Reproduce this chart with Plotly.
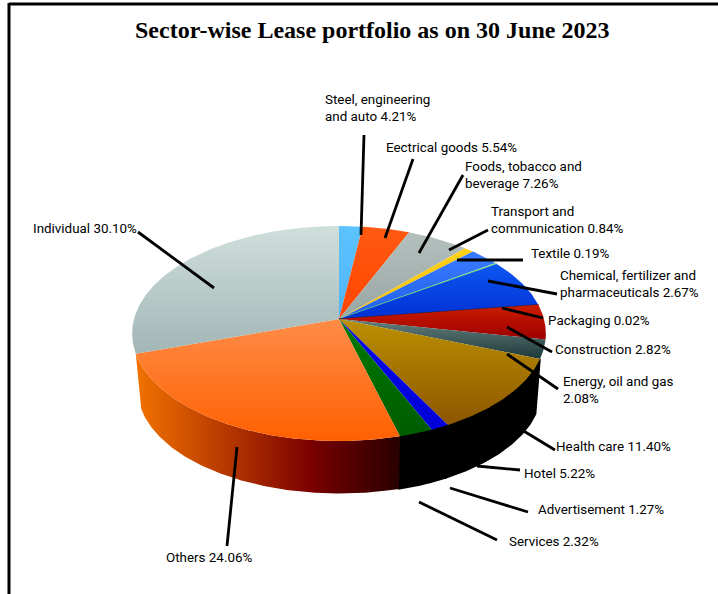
import numpy as np
import plotly.graph_objects as go

# Sectors in clockwise drawing order, beginning at twelve o'clock
sectors = [
    "Energy, oil and gas<br>", "Steel, engineering<br>and auto", "Eectrical goods",
    "Transport and<br>communication", "Chemical, fertilizer and<br>pharmaceuticals",
    "Textile", "Foods, tobacco and<br>beverage", "Packaging", "Hotel", "Construction",
    "Health care", "Advertisement", "Services", "Others", "Individual",
]
shares = [2.08, 4.21, 5.54, 0.84, 2.67, 0.19, 7.26, 0.02, 5.22, 2.82, 11.40, 1.27, 2.32, 24.06, 30.10]

# Vertical shading of each slice's top face: far edge colour, near edge colour
top_shades = [
    ("#5cc3ff", "#4fb4f5"), ("#ff5a12", "#ff4400"), ("#b4c0bd", "#98a6a4"), ("#ffd21a", "#f5bd00"),
    ("#3a7cff", "#1f5fec"), ("#63d46c", "#55c060"), ("#0d56f2", "#0030d4"), ("#20204a", "#20204a"),
    ("#cc1c00", "#9c0000"), ("#64807f", "#1c3838"), ("#bb9000", "#8c5600"), ("#0a0ae6", "#0000d8"),
    ("#007a00", "#005c00"), ("#ff8c48", "#ff6000"), ("#cfdfdc", "#a2b6b6"),
]
edge_widths = [0, 0, 0, 0, 0, 0.8, 0, 0.9, 0, 0, 0, 0, 0, 0, 0]

# Left-to-right shading of the outer wall for the slices that face the viewer
wall_shades = {
    10: ["#000000", "#000000"],
    11: ["#000000", "#000000"],
    12: ["#000000", "#000000"],
    13: ["#f27200", "#b83a00", "#7a0000", "#280000"],
}

title_text = "Sector-wise Lease portfolio as on 30 June 2023"

# Where each sector's caption sits on the page
caption_at = [
    (561, 390), (323, 108), (384, 147), (489, 220), (558, 284), (529, 253), (463, 175),
    (546, 320), (522, 473), (553, 349), (554, 446), (536, 509), (507, 541), (164, 557), (31, 228),
]
# Leader lines from each caption to its slice
leaders = [
    ((507, 354), (558, 389)), ((364, 135), (361, 235)), ((413, 159), (385, 238)),
    ((488, 230), (449, 250)), ((488, 281), (557, 294)), ((523, 260), (457, 260)),
    ((463, 175), (419, 253)), ((502, 308), (543, 318)), ((477, 466), (520, 470)),
    ((507, 327), (552, 352)), ((522, 430), (555, 450)), ((450, 488), (528, 512)),
    ((419, 502), (497, 540)), ((237, 447), (227, 546)), ((138, 232), (214, 288)),
]

# Perspective view of the disc: apex position and radii for the top and bottom faces
TILT = 0.135
TOP = dict(x0=339.0, y0=319.0, a=205.0, b=105.6)
BOTTOM = dict(x0=339.5, y0=375.5, a=200.0, b=102.1)


def project(theta, face):
    """Map clockwise angles (radians from north) on the disc to page positions."""
    sx, cy = np.sin(theta), np.cos(theta)
    w = 1 + TILT * cy
    return face["x0"] + face["a"] * sx / w, face["y0"] - face["b"] * cy / w


edges = np.cumsum([0.0] + shares) / sum(shares) * 2 * np.pi
fig = go.Figure()


def rim_angles(i):
    n = max(3, int(np.degrees(edges[i + 1] - edges[i]) * 2))
    return np.linspace(edges[i], edges[i + 1], n)


# Outer wall first, so the top faces cover its upper edge
for i, colours in wall_shades.items():
    th = rim_angles(i)
    xt, yt = project(th, TOP)
    xb, yb = project(th, BOTTOM)
    scale = [[k / (len(colours) - 1), c] for k, c in enumerate(colours)]
    xs = np.r_[xt, xb[::-1], xt[0]]
    fig.add_trace(go.Scatter(
        x=xs, y=np.r_[yt, yb[::-1], yt[0]],
        mode="lines", line=dict(width=1.4, color=colours[-1] if i != 13 else "rgba(0,0,0,0)"),
        fill="toself",
        fillgradient=dict(type="horizontal", colorscale=scale,
                          start=float(xs.min()), stop=float(xs.max())),
        hoverinfo="skip", showlegend=False,
    ))

# Top faces of all slices
for i, (far, near) in enumerate(top_shades):
    th = rim_angles(i)
    xr, yr = project(th, TOP)
    fig.add_trace(go.Scatter(
        x=np.r_[TOP["x0"], xr, TOP["x0"]], y=np.r_[TOP["y0"], yr, TOP["y0"]],
        mode="lines", line=dict(width=edge_widths[i], color=far),
        fill="toself",
        fillgradient=dict(type="vertical", colorscale=[[0, far], [1, near]],
                          start=float(min(yr.min(), TOP["y0"])), stop=float(max(yr.max(), TOP["y0"]))),
        hoverinfo="skip", showlegend=False, name=sectors[i].replace("<br>", " "),
    ))

# Leader lines
for (x1, y1), (x2, y2) in leaders:
    fig.add_shape(type="line", x0=x1, y0=y1, x1=x2, y1=y2, line=dict(color="black", width=2.8))

# Captions
for name, share, (x, y) in zip(sectors, shares, caption_at):
    joiner = "" if name.endswith("<br>") else " "
    fig.add_annotation(
        x=x, y=y, xref="x", yref="y", text=f"{name}{joiner}{share:.2f}%", showarrow=False,
        xanchor="left", yanchor="middle", align="left",
        font=dict(family="Roboto, Liberation Sans", size=13.4, color="black"),
    )

fig.add_annotation(
    x=371.5, y=30, xref="x", yref="y", text=f"<b>{title_text}</b>", showarrow=False,
    xanchor="center", yanchor="middle",
    font=dict(family="Liberation Serif, Times New Roman", size=24, color="black"),
)

# Page frame, open on the right and at the bottom
fig.add_shape(type="line", x0=9, y0=4, x1=718, y1=4, line=dict(color="black", width=3))
fig.add_shape(type="line", x0=9, y0=3, x1=9, y1=594, line=dict(color="black", width=3))

fig.update_layout(
    width=718, height=594, margin=dict(l=0, r=0, t=0, b=0),
    paper_bgcolor="white", plot_bgcolor="white", showlegend=False,
    xaxis=dict(range=[0, 718], visible=False, fixedrange=True),
    yaxis=dict(range=[594, 0], visible=False, fixedrange=True),
)
fig.write_html("out.html", config={"displayModeBar": False})
